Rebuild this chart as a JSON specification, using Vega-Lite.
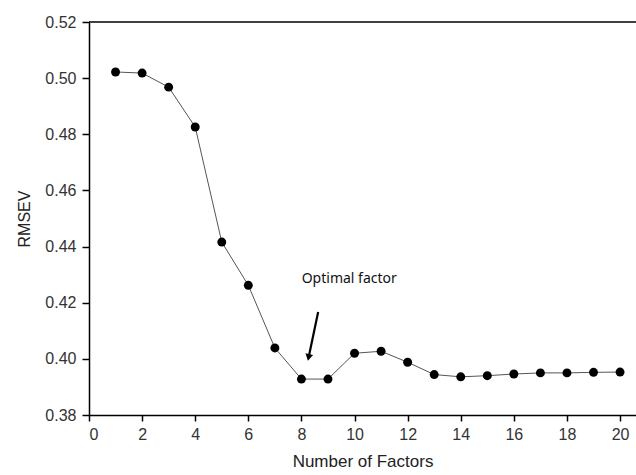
{
  "$schema": "https://vega.github.io/schema/vega-lite/v6.json",
  "width": 547,
  "height": 393,
  "autosize": "none",
  "padding": {"left": 89, "top": 22, "right": 0, "bottom": 60},
  "background": "white",
  "config": {"view": {"stroke": null}},
  "datasets": {
    "rmsev": [
      {"factors": 1, "rmsev": 0.5022},
      {"factors": 2, "rmsev": 0.5018},
      {"factors": 3, "rmsev": 0.4968},
      {"factors": 4, "rmsev": 0.4826},
      {"factors": 5, "rmsev": 0.4416},
      {"factors": 6, "rmsev": 0.4262},
      {"factors": 7, "rmsev": 0.4039},
      {"factors": 8, "rmsev": 0.3928},
      {"factors": 9, "rmsev": 0.3928},
      {"factors": 10, "rmsev": 0.4020},
      {"factors": 11, "rmsev": 0.4027},
      {"factors": 12, "rmsev": 0.3988},
      {"factors": 13, "rmsev": 0.3944},
      {"factors": 14, "rmsev": 0.3936},
      {"factors": 15, "rmsev": 0.3940},
      {"factors": 16, "rmsev": 0.3946},
      {"factors": 17, "rmsev": 0.3950},
      {"factors": 18, "rmsev": 0.3950},
      {"factors": 19, "rmsev": 0.3952},
      {"factors": 20, "rmsev": 0.3953}
    ],
    "arrow": [
      {"x": 8.63, "y": 0.4167, "x2": 8.27, "y2": 0.4005}
    ],
    "label": [
      {"x": 9.8, "y": 0.4283, "text": "Optimal factor"}
    ]
  },
  "layer": [
    {
      "data": {"name": "rmsev"},
      "mark": {"type": "line", "color": "#555555", "strokeWidth": 1},
      "encoding": {
        "x": {
          "field": "factors", "type": "quantitative",
          "scale": {"domain": [0, 20.6], "nice": false, "zero": false},
          "axis": {
            "values": [0, 2, 4, 6, 8, 10, 12, 14, 16, 18, 20],
            "title": "Number of  Factors",
            "grid": false,
            "domainColor": "#000000", "domainWidth": 1.5,
            "tickColor": "#000000", "tickWidth": 1.5, "tickSize": 6,
            "labelFont": "Liberation Sans", "labelFontSize": 16, "labelColor": "#333333", "labelPadding": 5,
            "titleFont": "Liberation Sans", "titleFontSize": 17, "titleFontWeight": "normal", "titleColor": "#222222", "titlePadding": 11
          }
        },
        "y": {
          "field": "rmsev", "type": "quantitative",
          "scale": {"domain": [0.38, 0.52], "nice": false, "zero": false},
          "axis": {
            "values": [0.38, 0.39, 0.40, 0.41, 0.42, 0.43, 0.44, 0.45, 0.46, 0.47, 0.48, 0.49, 0.50, 0.51, 0.52],
            "labelExpr": "round(datum.value*100) % 2 == 0 ? format(datum.value, '.2f') : ''",
            "title": "RMSEV",
            "grid": false,
            "domainColor": "#000000", "domainWidth": 1.5,
            "tickColor": "#000000", "tickWidth": 1.5,
            "tickSize": {"condition": {"test": "round(datum.value*100) % 2 == 0", "value": 7}, "value": 4},
            "labelFont": "Liberation Sans", "labelFontSize": 16, "labelColor": "#333333", "labelPadding": 6,
            "titleFont": "Liberation Sans", "titleFontSize": 16, "titleFontWeight": "normal", "titleColor": "#222222", "titlePadding": 12
          }
        }
      }
    },
    {
      "data": {"name": "rmsev"},
      "mark": {"type": "point", "filled": true, "color": "#000000", "size": 80, "opacity": 1},
      "encoding": {
        "x": {"field": "factors", "type": "quantitative"},
        "y": {"field": "rmsev", "type": "quantitative"}
      }
    },
    {
      "data": {"values": [{"top": 0.52}]},
      "mark": {"type": "rule", "color": "#000000", "strokeWidth": 1.5},
      "encoding": {"y": {"field": "top", "type": "quantitative"}}
    },
    {
      "data": {"name": "arrow"},
      "mark": {"type": "rule", "color": "#000000", "strokeWidth": 2.2},
      "encoding": {
        "x": {"field": "x", "type": "quantitative"},
        "y": {"field": "y", "type": "quantitative"},
        "x2": {"field": "x2"},
        "y2": {"field": "y2"}
      }
    },
    {
      "data": {"name": "arrow"},
      "mark": {"type": "point", "shape": "triangle-down", "filled": true, "color": "#000000", "size": 60, "opacity": 1, "angle": 12},
      "encoding": {
        "x": {"field": "x2", "type": "quantitative"},
        "y": {"field": "y2", "type": "quantitative"}
      }
    },
    {
      "data": {"name": "label"},
      "mark": {"type": "text", "font": "Noto Sans", "fontSize": 14, "color": "#111111", "align": "center", "baseline": "middle"},
      "encoding": {
        "x": {"field": "x", "type": "quantitative"},
        "y": {"field": "y", "type": "quantitative"},
        "text": {"field": "text"}
      }
    }
  ]
}
